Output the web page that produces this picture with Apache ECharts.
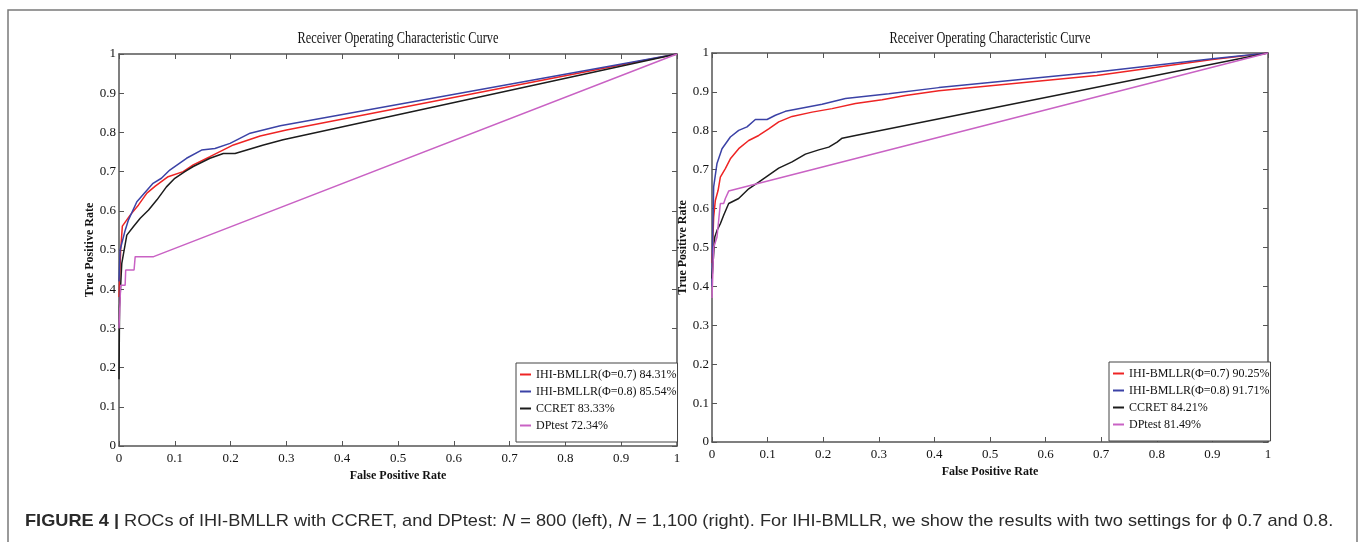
<!DOCTYPE html>
<html>
<head>
<meta charset="utf-8">
<script src="https://cdn.jsdelivr.net/npm/echarts@6/dist/echarts.min.js"></script>
<style>
html,body{margin:0;padding:0;background:#fff;}
#chart{width:1360px;height:542px;}
</style>
</head>
<body>
<div id="chart"></div>
<script>
// ---------- DATA ----------
const xTicks = [0, 0.1, 0.2, 0.3, 0.4, 0.5, 0.6, 0.7, 0.8, 0.9, 1];
const yTicks = [0, 0.1, 0.2, 0.3, 0.4, 0.5, 0.6, 0.7, 0.8, 0.9, 1];

const leftNames = ['IHI-BMLLR(\u03A6=0.7) 84.31%', 'IHI-BMLLR(\u03A6=0.8) 85.54%', 'CCRET 83.33%', 'DPtest 72.34%'];
const rightNames = ['IHI-BMLLR(\u03A6=0.7) 90.25%', 'IHI-BMLLR(\u03A6=0.8) 91.71%', 'CCRET 84.21%', 'DPtest 81.49%'];

// Left panel (N = 800)
const leftIHI07 = [[0,0.38],[0.003,0.5],[0.006,0.561],[0.02,0.589],[0.035,0.615],[0.05,0.645],[0.065,0.663],[0.088,0.687],[0.115,0.70],[0.133,0.717],[0.163,0.738],[0.205,0.768],[0.253,0.791],[0.3,0.806],[1,1]];
const leftIHI08 = [[0,0.42],[0.002,0.5],[0.011,0.55],[0.017,0.577],[0.032,0.623],[0.061,0.67],[0.076,0.683],[0.091,0.704],[0.121,0.734],[0.148,0.755],[0.172,0.759],[0.199,0.772],[0.235,0.798],[0.289,0.817],[1,1]];
const leftCCRET = [[0,0.17],[0.001,0.355],[0.005,0.466],[0.014,0.538],[0.026,0.56],[0.038,0.581],[0.053,0.602],[0.068,0.628],[0.085,0.661],[0.1,0.683],[0.118,0.70],[0.133,0.713],[0.163,0.734],[0.187,0.746],[0.208,0.746],[0.259,0.768],[0.294,0.781],[1,1]];
const leftDPtest = [[0,0.3],[0.003,0.41],[0.011,0.41],[0.012,0.449],[0.027,0.449],[0.029,0.483],[0.062,0.483],[1,1]];

// Right panel (N = 1,100)
const rightIHI07 = [[0,0.46],[0.003,0.578],[0.006,0.621],[0.011,0.647],[0.015,0.681],[0.024,0.703],[0.033,0.728],[0.048,0.754],[0.066,0.775],[0.084,0.788],[0.102,0.805],[0.12,0.823],[0.144,0.837],[0.18,0.848],[0.216,0.857],[0.258,0.87],[0.306,0.88],[0.348,0.891],[0.408,0.903],[0.692,0.942],[0.9,0.983],[1,1]];
const rightIHI08 = [[0,0.4],[0.001,0.51],[0.003,0.656],[0.009,0.716],[0.018,0.754],[0.033,0.784],[0.048,0.801],[0.063,0.81],[0.078,0.829],[0.099,0.829],[0.114,0.84],[0.132,0.85],[0.198,0.868],[0.24,0.883],[0.318,0.895],[0.408,0.911],[0.692,0.951],[0.9,0.985],[1,1]];
const rightCCRET = [[0,0.42],[0.005,0.527],[0.009,0.544],[0.015,0.561],[0.021,0.583],[0.03,0.613],[0.048,0.626],[0.066,0.651],[0.084,0.668],[0.102,0.686],[0.12,0.704],[0.144,0.72],[0.168,0.74],[0.192,0.751],[0.21,0.758],[0.225,0.771],[0.234,0.781],[0.258,0.788],[1,1]];
const rightDPtest = [[0,0.37],[0.003,0.5],[0.009,0.527],[0.015,0.613],[0.021,0.613],[0.024,0.626],[0.03,0.645],[1,1]];

const titleText = 'Receiver Operating Characteristic Curve';
const xName = 'False Positive Rate';
const yName = 'True Positive Rate';
const captionText = '{b|FIGURE 4 |} ROCs of IHI-BMLLR with CCRET, and DPtest: {i|N} = 800 (left), {i|N} = 1,100 (right). For IHI-BMLLR, we show the results with two settings for \u03D5 0.7 and 0.8.';

// ---------- STYLE ----------
const colors = ['#ee2424', '#3b42a6', '#1c1c1c', '#c962c4'];
const serif = '"Liberation Serif", "Times New Roman", serif';
const sans = '"Liberation Sans", Arial, sans-serif';
const axisColor = '#555';

function fmt(v) {
  if (Math.abs(v) < 1e-9) return '0';
  if (Math.abs(v - 1) < 1e-9) return '1';
  return v.toFixed(1);
}

function xAxes(gi) {
  const base = {
    gridIndex: gi, type: 'value', min: xTicks[0], max: xTicks[xTicks.length - 1], interval: 0.1,
    axisLine: { show: true, onZero: false, lineStyle: { color: axisColor, width: 1.5 } },
    axisTick: { show: true, inside: true, length: 5, lineStyle: { color: axisColor, width: 1 } },
    splitLine: { show: false }
  };
  return [
    Object.assign({}, base, {
      position: 'bottom',
      axisLabel: { show: true, margin: 6, formatter: fmt, color: '#111', fontFamily: serif, fontSize: 13 },
      name: xName, nameLocation: 'middle', nameGap: 20,
      nameTextStyle: { fontFamily: serif, fontWeight: 'bold', fontSize: 12, color: '#111' }
    }),
    Object.assign({}, base, { position: 'top', axisLabel: { show: false } })
  ];
}
function yAxes(gi) {
  const base = {
    gridIndex: gi, type: 'value', min: yTicks[0], max: yTicks[yTicks.length - 1], interval: 0.1,
    axisLine: { show: true, onZero: false, lineStyle: { color: axisColor, width: 1.5 } },
    axisTick: { show: true, inside: true, length: 5, lineStyle: { color: axisColor, width: 1 } },
    splitLine: { show: false }
  };
  return [
    Object.assign({}, base, {
      position: 'left',
      axisLabel: { show: true, margin: 3, formatter: fmt, color: '#111', fontFamily: serif, fontSize: 13 },
      name: yName, nameLocation: 'middle', nameGap: 18, nameRotate: 90,
      nameTextStyle: { fontFamily: serif, fontWeight: 'bold', fontSize: 12, color: '#111' }
    }),
    Object.assign({}, base, { position: 'right', axisLabel: { show: false } })
  ];
}

function mkSeries(name, data, ci, xi, yi) {
  return {
    name: name, type: 'line', data: data, xAxisIndex: xi, yAxisIndex: yi,
    showSymbol: false, symbol: 'none', smooth: false, animation: false,
    color: colors[ci],
    lineStyle: { color: colors[ci], width: 1.5 },
    itemStyle: { color: colors[ci] }
  };
}

const legendBase = {
  orient: 'vertical', icon: 'rect', itemWidth: 11, itemHeight: 2, itemGap: 4,
  backgroundColor: '#fff', borderColor: '#444', borderWidth: 1, borderRadius: 0,
  padding: [5, 1, 10, 4],
  selectedMode: false,
  textStyle: { fontFamily: serif, fontSize: 12, color: '#111', lineHeight: 13 }
};

const option = {
  animation: false,
  backgroundColor: '#fff',
  grid: [
    { left: 119, top: 54, width: 558, height: 392 },
    { left: 712, top: 53, width: 556, height: 389 }
  ],
  xAxis: [].concat(xAxes(0), xAxes(1)),
  yAxis: [].concat(yAxes(0), yAxes(1)),
  legend: [
    Object.assign({}, legendBase, { data: leftNames, left: 516, top: 363 }),
    Object.assign({}, legendBase, { data: rightNames, left: 1109, top: 362 })
  ],
  series: [
    mkSeries(leftNames[0], leftIHI07, 0, 0, 0),
    mkSeries(leftNames[1], leftIHI08, 1, 0, 0),
    mkSeries(leftNames[2], leftCCRET, 2, 0, 0),
    mkSeries(leftNames[3], leftDPtest, 3, 0, 0),
    mkSeries(rightNames[0], rightIHI07, 0, 2, 2),
    mkSeries(rightNames[1], rightIHI08, 1, 2, 2),
    mkSeries(rightNames[2], rightCCRET, 2, 2, 2),
    mkSeries(rightNames[3], rightDPtest, 3, 2, 2)
  ],
  graphic: [
    { type: 'rect', silent: true, z: -10,
      shape: { x: 8, y: 10, width: 1349, height: 560 },
      style: { fill: 'none', stroke: '#7a7a7a', lineWidth: 1.5 } },
    { type: 'text', silent: true, x: 398, y: 39, scaleX: 0.77,
      style: { text: titleText, font: '16px ' + serif, fill: '#111', align: 'center', verticalAlign: 'middle' } },
    { type: 'text', silent: true, x: 990, y: 39, scaleX: 0.77,
      style: { text: titleText, font: '16px ' + serif, fill: '#111', align: 'center', verticalAlign: 'middle' } },
    { type: 'text', silent: true, x: 25, y: 521, scaleX: 1.07,
      style: {
        text: captionText, font: '17px ' + sans, fill: '#2a2a2a',
        align: 'left', verticalAlign: 'middle',
        rich: {
          b: { fontWeight: 'bold', fontSize: 17, fontFamily: sans, fill: '#2a2a2a' },
          i: { fontStyle: 'italic', fontSize: 17, fontFamily: sans, fill: '#2a2a2a' }
        }
      } }
  ]
};

const chart = echarts.init(document.getElementById('chart'), null, { renderer: 'canvas' });
chart.setOption(option);
</script>
</body>
</html>
